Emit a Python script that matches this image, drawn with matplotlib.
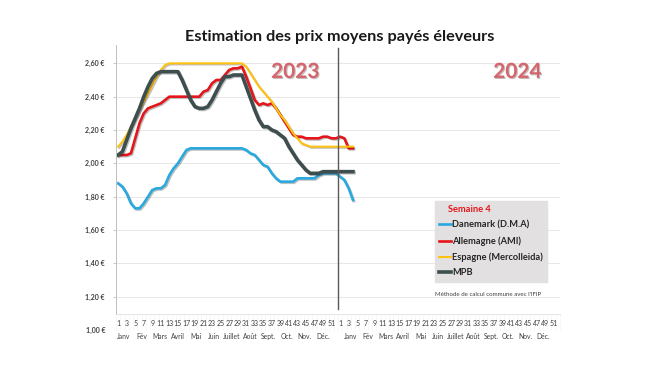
import matplotlib
matplotlib.use("Agg")
import matplotlib.pyplot as plt
import matplotlib.patheffects as pe
import numpy as np

plt.rcParams['font.family'] = ['Lato', 'DejaVu Sans']

# semaines 2023 (1-52) puis 2024 (1-4)
months = ['Janv', 'Fév', 'Mars', 'Avril', 'Mai', 'Juin', 'Juillet', 'Août',
          'Sept.', 'Oct.', 'Nov.', 'Déc.']
years = ['2023', '2024']
week_labels = list(range(1, 53, 2))

danemark = [1.88, 1.86, 1.82, 1.76, 1.73, 1.73, 1.76, 1.80, 1.84, 1.85,
            1.85, 1.87, 1.93, 1.97, 2.00, 2.04, 2.08, 2.09, 2.09, 2.09,
            2.09, 2.09, 2.09, 2.09, 2.09, 2.09, 2.09, 2.09, 2.09, 2.09,
            2.08, 2.06, 2.05, 2.02, 1.99, 1.98, 1.94, 1.91, 1.89, 1.89,
            1.89, 1.89, 1.91, 1.91, 1.91, 1.91, 1.91, 1.93, 1.94, 1.94,
            1.94, 1.94,
            1.92, 1.90, 1.85, 1.78]
allemagne = [2.05, 2.05, 2.05, 2.06, 2.15, 2.24, 2.30, 2.33, 2.34, 2.35,
             2.36, 2.38, 2.40, 2.40, 2.40, 2.40, 2.40, 2.40, 2.40, 2.40,
             2.43, 2.44, 2.48, 2.50, 2.50, 2.53, 2.56, 2.57, 2.57, 2.58,
             2.52, 2.45, 2.38, 2.35, 2.36, 2.35, 2.36, 2.33, 2.29, 2.25,
             2.21, 2.17, 2.16, 2.16, 2.15, 2.15, 2.15, 2.15, 2.16, 2.16,
             2.15, 2.15,
             2.16, 2.15, 2.09, 2.09]
espagne = [2.10, 2.13, 2.17, 2.22, 2.27, 2.32, 2.37, 2.42, 2.47, 2.52,
           2.56, 2.59, 2.60, 2.60, 2.60, 2.60, 2.60, 2.60, 2.60, 2.60,
           2.60, 2.60, 2.60, 2.60, 2.60, 2.60, 2.60, 2.60, 2.60, 2.60,
           2.58, 2.54, 2.50, 2.46, 2.43, 2.40, 2.37, 2.33, 2.29, 2.26,
           2.22, 2.18, 2.15, 2.12, 2.11, 2.10, 2.10, 2.10, 2.10, 2.10,
           2.10, 2.10,
           2.10, 2.10, 2.10, 2.10]
mpb = [2.05, 2.07, 2.14, 2.21, 2.27, 2.33, 2.40, 2.46, 2.51, 2.54,
       2.55, 2.55, 2.55, 2.55, 2.55, 2.50, 2.44, 2.38, 2.34, 2.33,
       2.33, 2.34, 2.38, 2.43, 2.48, 2.52, 2.52, 2.53, 2.53, 2.53,
       2.46, 2.39, 2.32, 2.26, 2.22, 2.22, 2.20, 2.19, 2.17, 2.15,
       2.10, 2.06, 2.02, 1.99, 1.96, 1.94, 1.94, 1.94, 1.95, 1.95,
       1.95, 1.95,
       1.95, 1.95, 1.95, 1.95]

yticks = [1.2, 1.4, 1.6, 1.8, 2.0, 2.2, 2.4, 2.6]

fig = plt.figure(figsize=(6.5, 3.66), dpi=100)
ax = fig.add_axes([116/650, 1-314/366, 444/650, 269/366])

x = np.arange(len(mpb))
shadow = [pe.SimpleLineShadow(offset=(0.8, -0.8), alpha=0.25), pe.Normal()]
ax.plot(x, danemark, color='#2AA9DE', lw=1.9, label='Danemark (D.M.A)', path_effects=shadow)
ax.plot(x, allemagne, color='#E5161B', lw=1.9, label='Allemagne (AMI)', path_effects=shadow)
ax.plot(x, espagne, color='#FFC20E', lw=1.5, label='Espagne (Mercolleida)', path_effects=shadow)
ax.plot(x, mpb, color='#3E4E4E', lw=2.6, label='MPB', path_effects=shadow)

ax.set_xlim(-0.5, 103.5)
ax.set_ylim(1.096, 2.71)
ax.set_yticks(yticks)
ax.set_yticklabels([f"{v:.2f} €".replace('.', ',') for v in yticks],
                   fontsize=5, fontweight='bold', color='#404040')
ax.text(-0.024, 1.0, "1,00 €", transform=ax.get_yaxis_transform(), ha='right',
        va='center', fontsize=5, fontweight='bold', color='#404040', clip_on=False)
ax.tick_params(axis='y', length=2.5, width=0.6, color='#BFBFBF', pad=6)
ax.set_xticks([])
ax.grid(axis='y', color='#E3E3E3', lw=0.6)
ax.set_axisbelow(True)
for s in ['top', 'right']:
    ax.spines[s].set_visible(False)
ax.spines['left'].set_color('#BFBFBF')
ax.spines['left'].set_linewidth(0.7)
ax.spines['bottom'].set_color('#E0E0E0')
ax.spines['bottom'].set_linewidth(0.6)

# separation 2023 / 2024
ax.axvline(51.5, ymin=0.02, ymax=0.99, color='#5A5A5A', lw=1)

# etiquettes semaines et mois
xt = ax.get_xaxis_transform()
for b in np.arange(-0.5, 104, 1):
    ax.plot([b, b], [0, -0.06], transform=xt, color='#F2F2F2', lw=0.4, clip_on=False)
for k, yr in enumerate(years):
    off = 52 * k
    for w in week_labels:
        ax.text(off + w - 1, -0.034, str(w), transform=xt, ha='center', va='center',
                fontsize=5, color='#404040', clip_on=False)
    for j, m in enumerate(months):
        ax.text(off + 1.2 + 1.3 * k + j * (4.25 - 0.15 * k), -0.085, m, transform=xt,
                ha='center', va='center', fontsize=4.9, color='#404040', clip_on=False)
    ax.text(off + 41.5, 0.9, yr, transform=xt, ha='center', va='center', fontsize=15,
            fontweight='bold', color='#D6646C', zorder=6,
            path_effects=[pe.withSimplePatchShadow(offset=(0.8, -0.8), alpha=0.3)])

fig.text(340/650, 1-37/366, "Estimation des prix moyens payés éleveurs",
         ha='center', va='center', fontsize=11.7, fontweight='bold', color='#1A1A1A')

leg = ax.legend(loc='upper left', bbox_to_anchor=(435/650, 1-201/366),
                bbox_transform=fig.transFigure, borderaxespad=0, frameon=True,
                fancybox=False, facecolor='#E2E0E0', edgecolor='#E2E0E0', framealpha=1,
                handlelength=1.3, handletextpad=0.1, labelspacing=0.7, borderpad=0.45,
                prop={'size': 6.7, 'weight': 'bold'},
                title='    Semaine 4', alignment='left',
                title_fontproperties={'size': 6.7, 'weight': 'bold'})
leg.get_title().set_color('#E5161B')
for t in leg.get_texts():
    t.set_color('#262626')
for h in leg.legend_handles:
    h.set_path_effects([])

fig.text(435/650, 1-295/366, "Méthode de calcul commune avec l'IFIP",
         ha='left', va='center', fontsize=4.4, color='#404040')

fig.savefig("out.png", dpi=100)
